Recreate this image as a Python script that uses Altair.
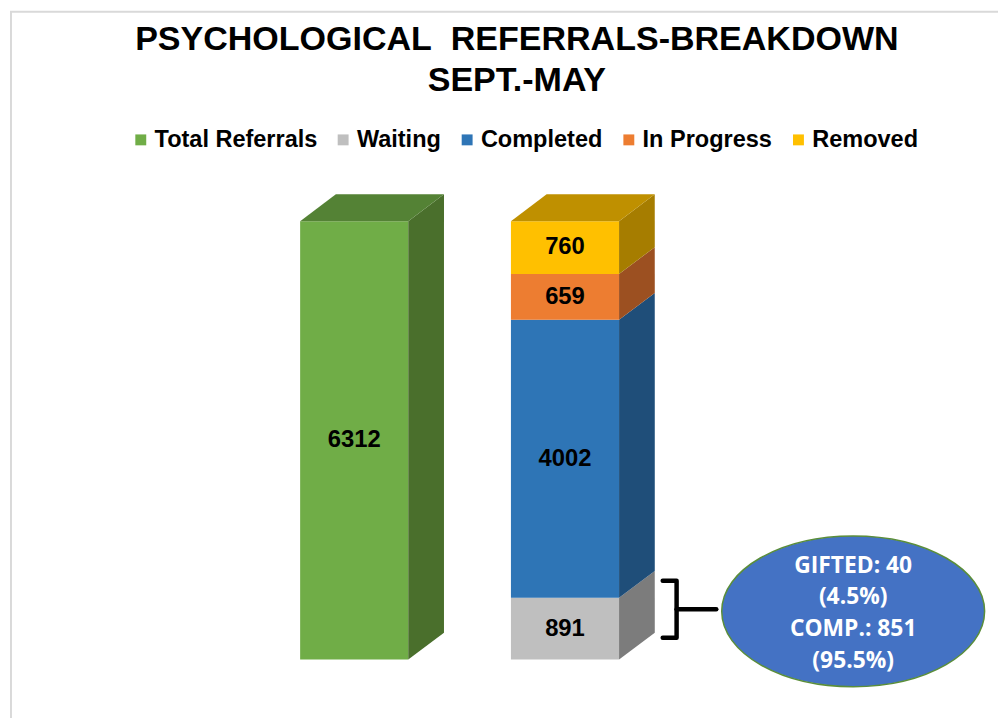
import altair as alt
import pandas as pd

# ---------------- data ----------------
categories = ["Total Referrals", "Waiting", "Completed", "In Progress", "Removed"]
bar_group = ["Total", "Breakdown", "Breakdown", "Breakdown", "Breakdown"]
values = [6312, 891, 4002, 659, 760]
front_colors = ["#70AD47", "#BFBFBF", "#2E75B6", "#ED7D31", "#FFC000"]
side_colors = ["#4A6F2C", "#7C7C7C", "#1F4E79", "#9C5021", "#A67D00"]
top_colors = ["#548235", "#8F8F8F", "#22588A", "#B25E25", "#BF9000"]
bar_order = ["Total", "Breakdown"]

title_lines = ["PSYCHOLOGICAL\u00a0 REFERRALS-BREAKDOWN", "SEPT.-MAY"]
callout_lines = ["GIFTED: 40", "(4.5%)", "COMP.: 851", "(95.5%)"]

# ---------------- layout / style ----------------
W, H, PAD_TOP = 998, 548, 162
PX_PER_UNIT = 442 / 6312          # y pixels per referral
PX_PER_STEP = 212.5               # x pixels per bar slot
ZERO_PX = 492                     # y pixel of value 0 inside the view
FIRST_PX = 349                    # x pixel of first bar centre inside the view

y_dom = [-(H - ZERO_PX) / PX_PER_UNIT, ZERO_PX / PX_PER_UNIT]
x_dom = [-FIRST_PX / PX_PER_STEP, (W - FIRST_PX) / PX_PER_STEP]

HALF = 54.5 / PX_PER_STEP         # half bar width
DX = 36 / PX_PER_STEP             # depth (x)
DY = 27 / PX_PER_UNIT             # depth (y)

xs = alt.Scale(domain=x_dom, nice=False, zero=False)
ys = alt.Scale(domain=y_dom, nice=False, zero=False)

# ---------------- geometry tables ----------------
seg_rows = []
cum = {b: 0 for b in bar_order}
for name, grp, v, sc, tc in zip(categories, bar_group, values, side_colors, top_colors):
    idx = bar_order.index(grp)
    y0 = cum[grp]
    y1 = y0 + v
    cum[grp] = y1
    seg_rows.append(dict(name=name, grp=grp, idx=idx, y0=y0, y1=y1, v=v,
                         side=sc, topc=tc, xl=idx - HALF, xr=idx + HALF,
                         ym=(y0 + y1) / 2))
seg = pd.DataFrame(seg_rows)

side_rows = []
for r in seg_rows:
    side_rows.append(dict(name=r["name"], c=r["side"], x=r["xr"], lo=r["y0"], hi=r["y1"]))
    side_rows.append(dict(name=r["name"], c=r["side"], x=r["xr"] + DX,
                          lo=r["y0"] + DY, hi=r["y1"] + DY))
side = pd.DataFrame(side_rows)

top_rows = []
for grp in bar_order:
    r = [s for s in seg_rows if s["grp"] == grp][-1]
    top_rows.append(dict(name=r["name"], c=r["topc"], y=r["y1"], xa=r["xl"], xb=r["xr"]))
    top_rows.append(dict(name=r["name"], c=r["topc"], y=r["y1"] + DY,
                         xa=r["xl"] + DX, xb=r["xr"] + DX))
top = pd.DataFrame(top_rows)

# annotation (bracket + callout) placed relative to the waiting segment
w = [s for s in seg_rows if s["name"] == "Waiting"][0]
br_left = w["xr"] + DX + 8 / PX_PER_STEP
br_right = br_left + 14 / PX_PER_STEP
br_end = br_right + 40 / PX_PER_STEP
br_lo = w["y0"] + 22 / PX_PER_UNIT
br_hi = w["y1"] + 17 / PX_PER_UNIT
br_mid = (br_lo + br_hi) / 2
bracket = pd.DataFrame([
    dict(part="b", o=0, x=br_left, y=br_hi),
    dict(part="b", o=1, x=br_right, y=br_hi),
    dict(part="b", o=2, x=br_right, y=br_lo),
    dict(part="b", o=3, x=br_left, y=br_lo),
    dict(part="s", o=0, x=br_right, y=br_mid),
    dict(part="s", o=1, x=br_end, y=br_mid),
])

ell_w, ell_h = 265, 152
ell_cx = br_end + 138 / PX_PER_STEP
ell_cy = br_mid - 2 / PX_PER_UNIT
ry = ell_h / ell_w
k = 0.5523
ellipse_path = (
    f"M 1 0 C 1 {k*ry:.4f} {k:.4f} {ry:.4f} 0 {ry:.4f} "
    f"C {-k:.4f} {ry:.4f} -1 {k*ry:.4f} -1 0 "
    f"C -1 {-k*ry:.4f} {-k:.4f} {-ry:.4f} 0 {-ry:.4f} "
    f"C {k:.4f} {-ry:.4f} 1 {-k*ry:.4f} 1 0 Z"
)
ell_df = pd.DataFrame([dict(x=ell_cx, y=ell_cy)])
LINE_H = 32
callout = pd.DataFrame([
    dict(t=t, x=ell_cx, y=ell_cy - (i - 1.5) * LINE_H / PX_PER_UNIT)
    for i, t in enumerate(callout_lines)
])

frame_df = pd.DataFrame([dict(a=1)])

# ---------------- layers ----------------
frame = alt.Chart(frame_df).mark_rect(
    fill="transparent", stroke="#D9D9D9", strokeWidth=2
).encode(x=alt.value(3), x2=alt.value(1200), y=alt.value(-PAD_TOP + 1), y2=alt.value(H + 100))

legend = alt.Legend(
    title=None, orient="none", legendX=122, legendY=-44, direction="horizontal",
    symbolType="square", symbolSize=121, symbolStrokeWidth=0,
    labelFont="Liberation Sans", labelFontSize=23.7, labelFontWeight="bold",
    labelColor="#000000", labelOffset=2, columnPadding=14, padding=0, labelLimit=0,
)

front = alt.Chart(seg).mark_rect().encode(
    x=alt.X("xl:Q", scale=xs, axis=None),
    x2="xr:Q",
    y=alt.Y("y0:Q", scale=ys, axis=None),
    y2="y1:Q",
    fill=alt.Fill("name:N", scale=alt.Scale(domain=categories, range=front_colors),
                  legend=legend),
)

sides = alt.Chart(side).mark_area(opacity=1).encode(
    x=alt.X("x:Q", scale=xs, axis=None),
    y=alt.Y("lo:Q", scale=ys, axis=None),
    y2="hi:Q",
    detail="name:N",
    color=alt.Color("c:N", scale=None),
)

tops = alt.Chart(top).mark_area(orient="horizontal", opacity=1).encode(
    y=alt.Y("y:Q", scale=ys, axis=None),
    x=alt.X("xa:Q", scale=xs, axis=None),
    x2="xb:Q",
    detail="name:N",
    color=alt.Color("c:N", scale=None),
)

labels = alt.Chart(seg).mark_text(
    font="Liberation Sans", fontSize=24, fontWeight="bold", color="#000000",
    align="center", baseline="middle"
).encode(
    x=alt.X("idx:Q", scale=xs, axis=None),
    y=alt.Y("ym:Q", scale=ys, axis=None),
    text="v:Q",
)

brk = alt.Chart(bracket).mark_line(
    color="#000000", strokeWidth=4.5, strokeJoin="round", strokeCap="round"
).encode(
    x=alt.X("x:Q", scale=xs, axis=None),
    y=alt.Y("y:Q", scale=ys, axis=None),
    detail="part:N",
    order="o:Q",
)

ell = alt.Chart(ell_df).mark_point(
    shape=ellipse_path, size=ell_w * ell_w, filled=True, fill="#4472C4",
    stroke="#5B8E3A", strokeWidth=1.5, opacity=1, fillOpacity=1, strokeOpacity=1
).encode(
    x=alt.X("x:Q", scale=xs, axis=None),
    y=alt.Y("y:Q", scale=ys, axis=None),
)

ell_text = alt.Chart(callout).mark_text(
    font="Open Sans", fontSize=23, fontWeight="bold", color="#FFFFFF",
    align="center", baseline="middle", dy=2
).encode(
    x=alt.X("x:Q", scale=xs, axis=None),
    y=alt.Y("y:Q", scale=ys, axis=None),
    text="t:N",
)

chart = alt.layer(frame, front, sides, tops, labels, brk, ell, ell_text).properties(
    width=W, height=H,
    background="#FFFFFF",
    autosize=alt.AutoSizeParams(type="none"),
    padding={"top": PAD_TOP, "left": 0, "right": 0, "bottom": 0},
    title=alt.Title(
        text=title_lines, font="Liberation Sans", fontSize=34.3, fontWeight="bold",
        color="#000000", anchor="middle", frame="group", offset=-88,
        lineHeight=41, dx=14,
    ),
).configure_view(stroke="transparent", strokeWidth=0)

chart.save("out.html", embed_options={"renderer": "svg", "actions": False})
